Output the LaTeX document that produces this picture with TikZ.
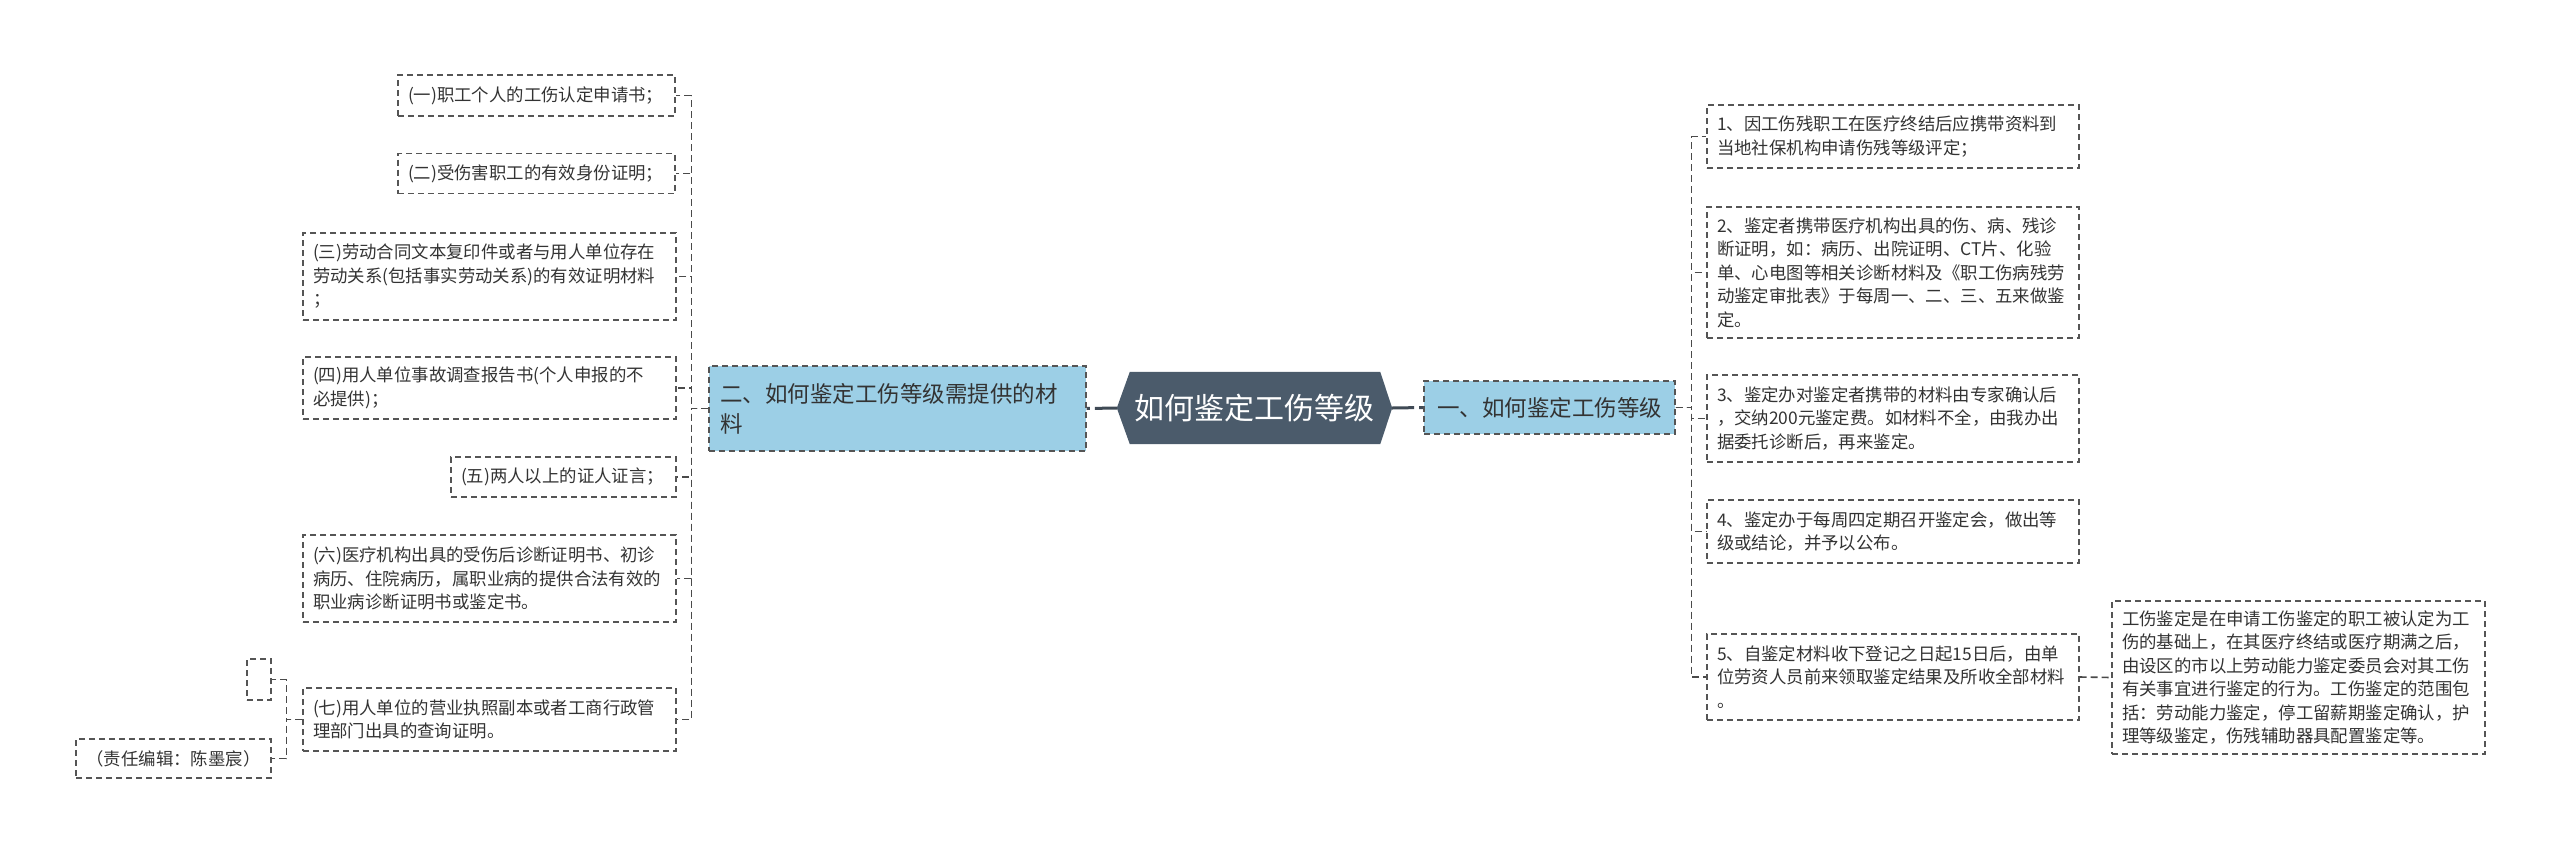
\documentclass[tikz,border=0pt]{standalone}
\usepackage{fontspec}
\setmainfont{Noto Sans CJK SC}
\usetikzlibrary{backgrounds}
\definecolor{linegray}{HTML}{555555}
\definecolor{conngray}{HTML}{4A4A4A}
\definecolor{textgray}{HTML}{333333}
\definecolor{topicblue}{HTML}{9CCFE6}
\definecolor{hexfill}{HTML}{4B5B6B}
\definecolor{maincol}{HTML}{3F4A55}
\begin{document}
\begin{tikzpicture}[x=1pt,y=-1pt,
  box/.style={draw=linegray, line width=1.3pt, dash pattern=on 6pt off 4pt,
    inner xsep=10pt, inner ysep=0pt, align=left, text=textgray,
    font=\fontsize{17.4pt}{23.5pt}\selectfont},
  conn/.style={draw=conngray, line width=1.6pt, dash pattern=on 7pt off 4pt},
  mainline/.style={draw=maincol, line width=3pt, dash pattern=on 22pt off 5pt on 30pt off 1pt},
  topic/.style={box, fill=topicblue, inner xsep=11pt,
    font=\fontsize{22.5pt}{30pt}\selectfont}
]
\useasboundingbox (0,0) rectangle (2560,855);

% central node
\node[inner sep=0pt, minimum width=275pt, minimum height=72pt, text=white,
  font=\fontsize{30pt}{36pt}\selectfont] (c) at (1254.5,408) {如何鉴定工伤等级};
\begin{scope}[on background layer]
\fill[hexfill] (c.west) -- ([xshift=13pt]c.north west) -- ([xshift=-12pt]c.north east)
  -- (c.east) -- ([xshift=-12pt]c.south east) -- ([xshift=13pt]c.south west) -- cycle;
\end{scope}

% topics
\node[topic, text width=355pt, minimum height=85pt] (lb) at (897.5,408.5)
  {二、如何鉴定工伤等级需提供的材\\料};
\node[topic, text width=227pt, minimum height=53pt, align=center, inner xsep=12pt] (rb) at (1549.5,407.5)
  {一、如何鉴定工伤等级};

% left children
\node[box, text width=257pt, minimum height=41pt] (L1) at (536.5,95.5)
  {(一)职工个人的工伤认定申请书；};
\node[box, text width=257pt, minimum height=40pt] (L2) at (536.5,173.5)
  {(二)受伤害职工的有效身份证明；};
\node[box, text width=353pt, minimum height=87pt] (L3) at (489.5,276.5)
  {(三)劳动合同文本复印件或者与用人单位存在\\劳动关系(包括事实劳动关系)的有效证明材料\\；};
\node[box, text width=353pt, minimum height=62pt] (L4) at (489.5,388)
  {(四)用人单位事故调查报告书(个人申报的不\\必提供)；};
\node[box, text width=205pt, minimum height=40pt] (L5) at (563.5,477)
  {(五)两人以上的证人证言；};
\node[box, text width=353pt, minimum height=87pt] (L6) at (489.5,578.5)
  {(六)医疗机构出具的受伤后诊断证明书、初诊\\病历、住院病历，属职业病的提供合法有效的\\职业病诊断证明书或鉴定书。};
\node[box, text width=353pt, minimum height=63pt] (L7) at (489.5,719.5)
  {(七)用人单位的营业执照副本或者工商行政管\\理部门出具的查询证明。};
\node[box, inner xsep=0pt, minimum width=24pt, minimum height=41pt] (SM) at (259,679.5) {};
\node[box, text width=175pt, minimum height=39pt, align=center] (ED) at (173.5,758.5)
  {（责任编辑：陈墨宸）};

% right children
\node[box, text width=352pt, minimum height=63pt] (R1) at (1893,136.5)
  {1、因工伤残职工在医疗终结后应携带资料到\\当地社保机构申请伤残等级评定；};
\node[box, text width=352pt, minimum height=131pt] (R2) at (1893,272.5)
  {2、鉴定者携带医疗机构出具的伤、病、残诊\\断证明，如：病历、出院证明、CT片、化验\\单、心电图等相关诊断材料及《职工伤病残劳\\动鉴定审批表》于每周一、二、三、五来做鉴\\定。};
\node[box, text width=352pt, minimum height=87pt] (R3) at (1893,418.5)
  {3、鉴定办对鉴定者携带的材料由专家确认后\\，交纳200元鉴定费。如材料不全，由我办出\\据委托诊断后，再来鉴定。};
\node[box, text width=352pt, minimum height=63pt] (R4) at (1893,531.5)
  {4、鉴定办于每周四定期召开鉴定会，做出等\\级或结论，并予以公布。};
\node[box, text width=352pt, minimum height=86pt] (R5) at (1893,677)
  {5、自鉴定材料收下登记之日起15日后，由单\\位劳资人员前来领取鉴定结果及所收全部材料\\。};
\node[box, text width=353pt, minimum height=153pt] (S) at (2298.5,677.5)
  {工伤鉴定是在申请工伤鉴定的职工被认定为工\\伤的基础上，在其医疗终结或医疗期满之后，\\由设区的市以上劳动能力鉴定委员会对其工伤\\有关事宜进行鉴定的行为。工伤鉴定的范围包\\括：劳动能力鉴定，停工留薪期鉴定确认，护\\理等级鉴定，伤残辅助器具配置鉴定等。};

% main connectors
\draw[mainline] (c.west) -- (lb.east);
\draw[mainline] (c.east) -- (rb.west);

% tree connectors
\foreach \n in {L1,L2,L3,L4,L5,L6,L7}
  \draw[conn] (lb.west) -- ++(-17,0) |- (\n.east);
\foreach \n in {R1,R2,R3,R4,R5}
  \draw[conn] (rb.east) -- ++(16,0) |- (\n.west);
\draw[conn] (R5.east) -- (S.west);
\draw[conn] (L7.west) -- ++(-16,0) |- (SM.east);
\draw[conn] (L7.west) -- ++(-16,0) |- (ED.east);
\end{tikzpicture}
\end{document}
